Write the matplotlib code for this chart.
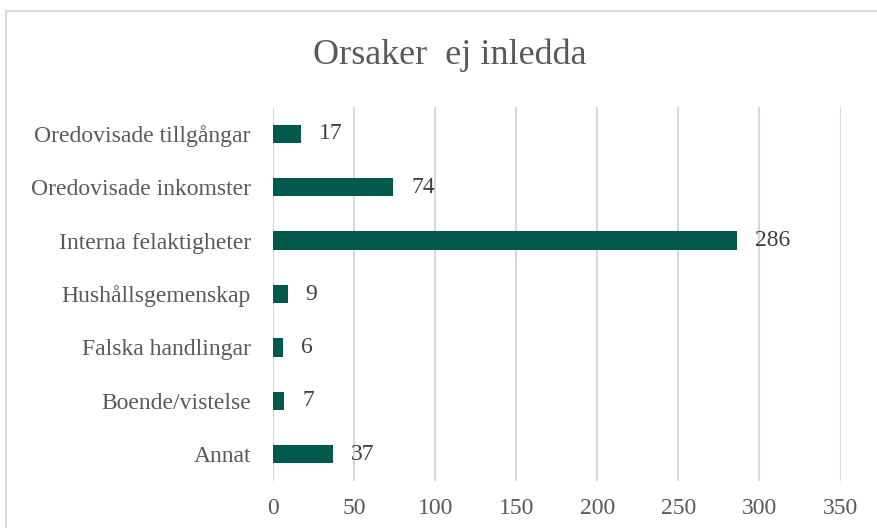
import matplotlib.pyplot as plt
from matplotlib.patches import Rectangle

# Data (top to bottom as shown)
categories = ["Oredovisade tillgångar", "Oredovisade inkomster", "Interna felaktigheter",
              "Hushållsgemenskap", "Falska handlingar", "Boende/vistelse", "Annat"]
values = [17, 74, 286, 9, 6, 7, 37]
xticks = [0, 50, 100, 150, 200, 250, 300, 350]

bar_color = "#00594C"
grid_color = "#D9D9D9"
text_color = "#595959"

plt.rcParams['font.family'] = ['Liberation Serif', 'DejaVu Serif']

fig = plt.figure(figsize=(8.77, 5.28), dpi=100)
ax = fig.add_axes([273 / 877, 1 - 481 / 528, (840.5 - 273) / 877, (481 - 107) / 528])

# chart area border (Excel style), runs off the right and bottom edges
fig.patches.append(Rectangle((6 / 877, -0.05), 1.0, 1 - 11 / 528 + 0.05,
                             transform=fig.transFigure, fill=False,
                             edgecolor=grid_color, linewidth=1.5))

y_pos = list(range(len(categories)))
ax.barh(y_pos, values, height=0.34, color=bar_color, zorder=3)

for y, v in zip(y_pos, values):
    ax.annotate(str(v), (v, y), xytext=(13, 0), textcoords='offset points',
                va='center', ha='left', fontsize=17, color="#404040")

ax.set_xlim(0, 350)
ax.set_ylim(len(categories) - 0.5, -0.5)
ax.set_xticks(xticks)
ax.set_yticks(y_pos)
ax.set_yticklabels(categories, fontsize=17, color=text_color)
ax.tick_params(axis='x', labelsize=17, labelcolor=text_color, length=0, pad=12)
ax.tick_params(axis='y', length=0, pad=16)
ax.grid(axis='x', color=grid_color, linewidth=1.5)
ax.set_axisbelow(True)
for s in ax.spines.values():
    s.set_visible(False)

fig.text(0.513, 1 - 55 / 528, "Orsaker  ej inledda", ha='center', va='center',
         fontsize=26, color=text_color)

fig.savefig("out.png", dpi=100)
